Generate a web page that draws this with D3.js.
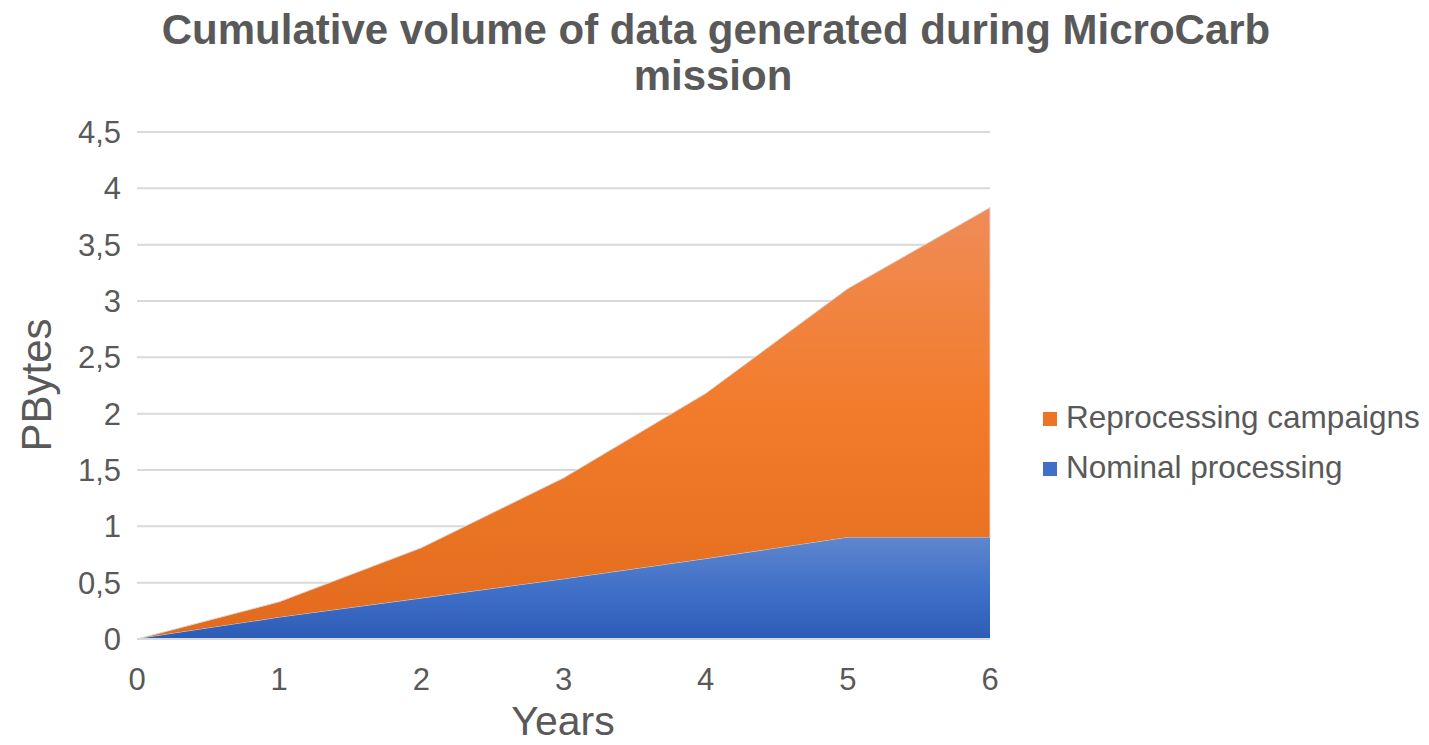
<!DOCTYPE html>
<html><head><meta charset="utf-8">
<script src="https://cdn.jsdelivr.net/npm/d3@7"></script>
<style>body{margin:0;background:#fff}svg{display:block}text{font-family:"Liberation Sans",Arial,sans-serif}</style>
</head><body>
<svg id="c" width="1429" height="745"></svg>
<script>
const years = [0, 1, 2, 3, 4, 5, 6];
const nominal = [0, 0.19, 0.36, 0.53, 0.71, 0.9, 0.9];
const reprocessing = [0, 0.14, 0.45, 0.90, 1.47, 2.21, 2.93];
const yTicks = [0, 0.5, 1, 1.5, 2, 2.5, 3, 3.5, 4, 4.5];
const seriesNames = ["Nominal processing", "Reprocessing campaigns"];

const svg = d3.select("#c");
const x = d3.scaleLinear().domain([0, 6]).range([137, 990]);
const y = d3.scaleLinear().domain([0, 4.5]).range([639, 132]);
const fmt = d => String(d).replace(".", ",");

const defs = svg.append("defs");
const gO = defs.append("linearGradient").attr("id","gO").attr("x1",0).attr("y1",0).attr("x2",0).attr("y2",1);
gO.append("stop").attr("offset","0%").attr("stop-color","#f08c58");
gO.append("stop").attr("offset","45%").attr("stop-color","#f27c2c");
gO.append("stop").attr("offset","100%").attr("stop-color","#e36a1c");
const gB = defs.append("linearGradient").attr("id","gB").attr("x1",0).attr("y1",0).attr("x2",0).attr("y2",1);
gB.append("stop").attr("offset","0%").attr("stop-color","#5f86cd");
gB.append("stop").attr("offset","50%").attr("stop-color","#4070c8");
gB.append("stop").attr("offset","100%").attr("stop-color","#2d5cb6");

// gridlines
svg.append("g").selectAll("line").data(yTicks).join("line")
  .attr("x1", x(0)).attr("x2", x(6)).attr("y1", d=>y(d)).attr("y2", d=>y(d))
  .attr("stroke", "#d9d9d9").attr("stroke-width", 2);

const rows = years.map((yr,i)=>({yr, nom: nominal[i], rep: reprocessing[i]}));
const stack = d3.stack().keys(["nom","rep"])(rows);
const area = d3.area().x(d=>x(d.data.yr)).y0(d=>y(d[0])).y1(d=>y(d[1]));

svg.append("path").datum(stack[1]).attr("d", area).attr("fill","url(#gO)")
  .attr("stroke","#d8d8d8").attr("stroke-width",1);
svg.append("path").datum(stack[0]).attr("d", area).attr("fill","url(#gB)");

// axis baseline
svg.append("line").attr("x1", x(0)).attr("x2", x(6)).attr("y1", y(0)).attr("y2", y(0))
  .attr("stroke","#d9d9d9").attr("stroke-width",2);

// y tick labels
svg.append("g").selectAll("text").data(yTicks).join("text")
  .attr("x", 121).attr("y", d=>y(d)).attr("dy","0.35em").attr("text-anchor","end")
  .attr("font-size", 31).attr("fill","#595959").text(fmt);

// x tick labels
svg.append("g").selectAll("text").data(years).join("text")
  .attr("x", d=>x(d)).attr("y", 690).attr("text-anchor","middle")
  .attr("font-size", 31).attr("fill","#595959").text(d=>d);

// axis titles
svg.append("text").attr("x", 563).attr("y", 735).attr("text-anchor","middle")
  .attr("font-size", 41).attr("fill","#595959").text("Years");
svg.append("text").attr("transform","translate(51,385) rotate(-90)").attr("text-anchor","middle")
  .attr("font-size", 42).attr("fill","#595959").text("PBytes");

// title
svg.append("text").attr("x", 716).attr("y", 44).attr("text-anchor","middle")
  .attr("font-size", 42).attr("font-weight","bold").attr("fill","#595959")
  .text("Cumulative volume of data generated during MicroCarb");
svg.append("text").attr("x", 713).attr("y", 90).attr("text-anchor","middle")
  .attr("font-size", 42).attr("font-weight","bold").attr("fill","#595959")
  .text("mission");

// legend
const legend = [
  {name: seriesNames[1], color: "#ec7424"},
  {name: seriesNames[0], color: "#3f6fc6"}
];
const lg = svg.append("g").selectAll("g").data(legend).join("g")
  .attr("transform", (d,i)=>`translate(1043,${417 + i*50})`);
lg.append("rect").attr("x",0).attr("y",-5).attr("width",14).attr("height",14).attr("fill",d=>d.color);
lg.append("text").attr("x",23).attr("y",0).attr("dy","0.35em").attr("font-size",31.5)
  .attr("fill","#595959").text(d=>d.name);
</script>
</body></html>
